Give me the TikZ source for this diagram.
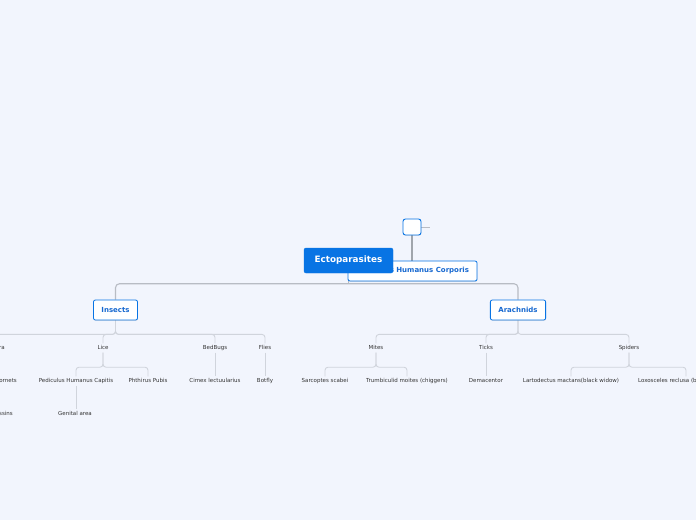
\documentclass[tikz,border=0pt]{standalone}
\usepackage{fontspec}
\setmainfont{DejaVu Sans}
\usetikzlibrary{backgrounds,shadows}
\definecolor{pagebg}{RGB}{242,245,253}
\definecolor{mmblue}{RGB}{8,116,228}
\definecolor{mmtext}{RGB}{22,104,208}
\definecolor{mmline}{RGB}{184,188,196}
\definecolor{mmthin}{RGB}{208,212,220}
\definecolor{mmstem}{RGB}{160,165,172}
\definecolor{mmleaf}{RGB}{51,51,51}

\begin{document}
\begin{tikzpicture}[
  x=1pt, y=-1pt,
  central/.style={draw=mmblue, fill=mmblue, rounded corners=2pt, minimum width=89pt, minimum height=25pt, text=white, font=\fontsize{8.8}{10}\selectfont\bfseries},
  topic/.style={draw=mmblue, fill=white, line width=0.8pt, rounded corners=2pt, minimum height=20pt, inner xsep=8pt, text=mmtext, font=\fontsize{7}{8}\selectfont\bfseries, drop shadow={shadow xshift=0.4pt, shadow yshift=-0.8pt, opacity=0.2}},
  marker/.style={draw=mmblue, fill=white, line width=0.9pt, rounded corners=2.5pt, minimum width=18pt, minimum height=16pt, inner sep=0pt, drop shadow={shadow xshift=0.4pt, shadow yshift=-0.8pt, opacity=0.2}},
  leaf/.style={inner sep=2pt, text height=4pt, text depth=1pt, text=mmleaf, font=\fontsize{5.5}{6}\selectfont},
  link/.style={draw=mmline, line width=1.1pt, rounded corners=4pt},
  sublink/.style={draw=mmthin, line width=0.9pt, rounded corners=3pt},
  stem/.style={draw=mmstem, line width=1.8pt}
]
  \useasboundingbox (0,0) rectangle (696,520);
  \begin{scope}[on background layer]
    \fill[pagebg] (0,0) rectangle (696,520);
  \end{scope}

  \node[topic] (corporis) at (412.5,271) {Pediculus Humanus Corporis};
  \node[central] (root) at (348.5,260.5) {Ectoparasites};
  \node[marker] (note) at (412,227) {};
  \coordinate (notetail) at (430,227);

  \node[topic] (insects) at (115.5,310) {Insects};
  \node[topic] (arachnids) at (518,310) {Arachnids};

  \node[leaf, anchor=east] (hymeno) at (7,348) {Hymenoptera};
  \node[leaf] (lice) at (103,348) {Lice};
  \node[leaf] (bedbugs) at (215,348) {BedBugs};
  \node[leaf] (flies) at (265,348) {Flies};
  \node[leaf] (mites) at (376,348) {Mites};
  \node[leaf] (ticks) at (486,348) {Ticks};
  \node[leaf] (spiders) at (629,348) {Spiders};

  \node[leaf, anchor=east] (hornets) at (19,381) {Wasps and Hornets};
  \node[leaf] (pedcap) at (76,381) {Pediculus Humanus Capitis};
  \node[leaf] (phthirus) at (148,381) {Phthirus Pubis};
  \node[leaf] (cimex) at (215,381) {Cimex lectuularius};
  \node[leaf] (botfly) at (265,381) {Botfly};
  \node[leaf] (sarcoptes) at (325,381) {Sarcoptes scabei};
  \node[leaf] (trombi) at (407,381) {Trumbiculid moites (chiggers)};
  \node[leaf] (demacentor) at (486,381) {Demacentor};
  \node[leaf] (lartodectus) at (571,381) {Lartodectus mactans(black widow)};
  \node[leaf] (loxosceles) at (686,381) {Loxosceles reclusa (brown recluse)};

  \node[leaf, anchor=east] (assassins) at (15,414) {Kissing bugs, Assassins};
  \node[leaf] (genital) at (75,414) {Genital area};

  \begin{scope}[on background layer]
    \draw[stem] (note.south) -- (corporis.north -| note.south);
    \draw[mmline, line width=0.8pt] (note.east) -- (notetail);
    \draw[link] (root.south) -- ++(0,10.5) coordinate (hub);
    \draw[link] (hub) -| (insects.north);
    \draw[link] (hub) -| (arachnids.north);

    \draw[sublink] (insects.south) -- ++(0,14) -| (hymeno.north);
    \draw[sublink] (insects.south) -- ++(0,14) -| (lice.north);
    \draw[sublink] (insects.south) -- ++(0,14) -| (bedbugs.north);
    \draw[sublink] (insects.south) -- ++(0,14) -| (flies.north);
    \draw[sublink] (arachnids.south) -- ++(0,14) -| (mites.north);
    \draw[sublink] (arachnids.south) -- ++(0,14) -| (ticks.north);
    \draw[sublink] (arachnids.south) -- ++(0,14) -| (spiders.north);

    \draw[sublink] (hymeno.south) -- ++(0,14.5) -| (hornets.north);
    \draw[sublink] (lice.south) -- ++(0,14.5) -| (pedcap.north);
    \draw[sublink] (lice.south) -- ++(0,14.5) -| (phthirus.north);
    \draw[sublink] (bedbugs.south) -- (cimex.north);
    \draw[sublink] (flies.south) -- (botfly.north);
    \draw[sublink] (mites.south) -- ++(0,14.5) -| (sarcoptes.north);
    \draw[sublink] (mites.south) -- ++(0,14.5) -| (trombi.north);
    \draw[sublink] (ticks.south) -- (demacentor.north);
    \draw[sublink] (spiders.south) -- ++(0,14.5) -| (lartodectus.north);
    \draw[sublink] (spiders.south) -- ++(0,14.5) -| (loxosceles.north);

    \draw[sublink] (hornets.south) -- ++(0,14.5) -| (assassins.north);
    \draw[sublink] (pedcap.south) -- (genital.north -| pedcap.south);
  \end{scope}
\end{tikzpicture}
\end{document}
